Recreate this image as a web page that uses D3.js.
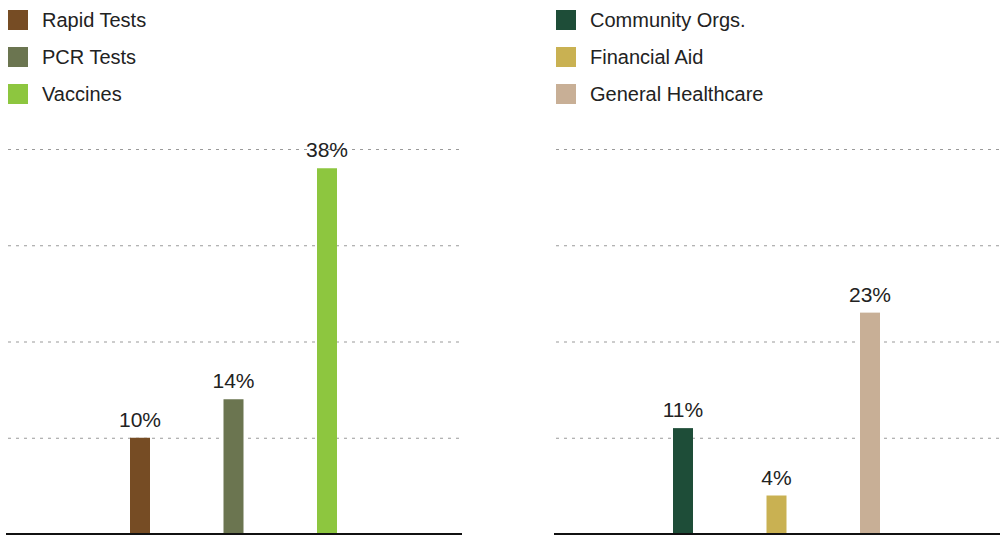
<!DOCTYPE html>
<html>
<head>
<meta charset="utf-8">
<script src="https://cdn.jsdelivr.net/npm/d3@7/dist/d3.min.js"></script>
<style>
  html, body { margin: 0; padding: 0; background: #fff; }
  svg { display: block; }
  text { font-family: "Liberation Sans", Arial, sans-serif; fill: #222; }
</style>
</head>
<body>
<svg id="chart" width="1000" height="535"></svg>
<script>
// Share of respondents by resource type (percent)
const testingCategories = ["Rapid Tests", "PCR Tests", "Vaccines"];
const testingValues = [10, 14, 38];
const testingColors = ["#764c24", "#6b7550", "#8dc63f"];

const supportCategories = ["Community Orgs.", "Financial Aid", "General Healthcare"];
const supportValues = [11, 4, 23];
const supportColors = ["#1e4d38", "#c9b152", "#c8af96"];

const gridTicks = [10, 20, 30, 40];
const yMax = 40;

const svg = d3.select("#chart");

const baseY = 534;
const topY = 149;
const y = d3.scaleLinear().domain([0, yMax]).range([baseY, topY]);

const panels = [
  { cats: testingCategories, vals: testingValues, colors: testingColors,
    left: 7, right: 461, firstBar: 140 },
  { cats: supportCategories, vals: supportValues, colors: supportColors,
    left: 555, right: 1000, firstBar: 683 }
];

const barWidth = 20;
const barStep = 93.5;

panels.forEach(p => {
  const g = svg.append("g");

  // legend
  const legend = g.append("g").attr("transform", `translate(${p.left + 1},0)`);
  p.cats.forEach((c, i) => {
    const ly = 10 + i * 37;
    legend.append("rect")
      .attr("x", 0).attr("y", ly)
      .attr("width", 20).attr("height", 20)
      .attr("fill", p.colors[i]);
    legend.append("text")
      .attr("x", 34).attr("y", ly + 10)
      .attr("dy", "0.35em")
      .attr("font-size", 20)
      .text(c);
  });

  // dotted gridlines
  const grid = d3.axisLeft(y).tickValues(gridTicks)
    .tickSize(-(p.right - p.left)).tickFormat("");
  const gg = g.append("g")
    .attr("transform", `translate(${p.left + 1},0)`)
    .call(grid);
  gg.select(".domain").remove();
  gg.selectAll(".tick line")
    .attr("stroke", "#9a9a9a")
    .attr("stroke-width", 1.2)
    .attr("stroke-dasharray", "3,5");

  // bars
  const x = d3.scalePoint()
    .domain(p.cats)
    .range([p.firstBar, p.firstBar + barStep * (p.cats.length - 1)]);

  g.selectAll("rect.bar")
    .data(p.cats.map((c, i) => ({ c, v: p.vals[i], color: p.colors[i] })))
    .join("rect")
    .attr("class", "bar")
    .attr("x", d => x(d.c) - barWidth / 2)
    .attr("y", d => y(d.v))
    .attr("width", barWidth)
    .attr("height", d => baseY - y(d.v))
    .attr("fill", d => d.color);

  // value labels
  g.selectAll("text.val")
    .data(p.cats.map((c, i) => ({ c, v: p.vals[i] })))
    .join("text")
    .attr("class", "val")
    .attr("x", d => x(d.c))
    .attr("y", d => y(d.v) - 11)
    .attr("text-anchor", "middle")
    .attr("font-size", 21)
    .text(d => d.v + "%");

  // baseline
  const xb = d3.scaleLinear().range([p.left - 1, p.right + 1]);
  g.append("line")
    .attr("x1", xb(0)).attr("x2", xb(1))
    .attr("y1", y(0)).attr("y2", y(0))
    .attr("stroke", "#111")
    .attr("stroke-width", 2);
});
</script>
</body>
</html>
